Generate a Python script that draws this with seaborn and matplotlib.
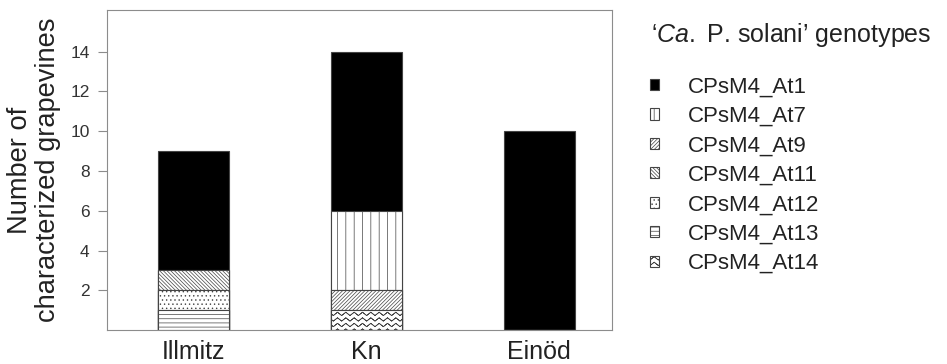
"""
Stacked bar chart of 'Ca. P. solani' genotypes per vineyard location.
"""

import warnings
import numpy as np
import pandas as pd
import matplotlib
matplotlib.use("Agg")
import matplotlib.pyplot as plt
import matplotlib.hatch as mhatch
from matplotlib.patches import Patch
from matplotlib.path import Path
import seaborn as sns

warnings.filterwarnings("ignore")

# --- data -------------------------------------------------------------
locations = ["Illmitz", "Kn", "Einöd"]
genotypes = ["CPsM4_At1", "CPsM4_At7", "CPsM4_At9", "CPsM4_At11",
             "CPsM4_At12", "CPsM4_At13", "CPsM4_At14"]
at1 = [6, 8, 10]
at7 = [0, 4, 0]
at9 = [0, 1, 0]
at11 = [1, 0, 0]
at12 = [1, 0, 0]
at13 = [1, 0, 0]
at14 = [0, 1, 0]

# bottom-to-top stacking order
stack_order = ["CPsM4_At13", "CPsM4_At14", "CPsM4_At12", "CPsM4_At9",
               "CPsM4_At11", "CPsM4_At7", "CPsM4_At1"]


# wavy hatch (not built into matplotlib)
class WavyHatch(mhatch.HatchPatternBase):
    n_pts = 25

    def __init__(self, hatch, density):
        self.num_lines = int(hatch.count("~") * density)
        # each wave is traced forth and back so the hatch fill stays empty
        self.num_vertices = self.num_lines * self.n_pts * 2

    def set_vertices_and_codes(self, vertices, codes):
        steps, stepsize = np.linspace(0.0, 1.0, self.num_lines, False, retstep=True)
        steps += stepsize / 2.0
        n = self.n_pts
        xs = np.linspace(0.0, 1.0, n)
        wiggle = np.where(np.arange(n) % 2 == 0, -1.0, 1.0) * stepsize * 0.3
        xs2 = np.concatenate([xs, xs[::-1]])
        w2 = np.concatenate([wiggle, wiggle[::-1]])
        for i, s in enumerate(steps):
            a, b = i * 2 * n, (i + 1) * 2 * n
            vertices[a:b, 0] = xs2
            vertices[a:b, 1] = s + w2
            codes[a] = Path.MOVETO
            codes[a + 1:b] = Path.LINETO


mhatch._hatch_types.append(WavyHatch)

hatches = {
    "CPsM4_At1": None,
    "CPsM4_At7": "||",
    "CPsM4_At9": "/" * 9,
    "CPsM4_At11": "\\" * 9,
    "CPsM4_At12": "....",
    "CPsM4_At13": "----",
    "CPsM4_At14": "~~~",
}
faces = {g: "white" for g in genotypes}
faces["CPsM4_At1"] = "black"
EDGE = "#444444"


def main():
    sns.set_style("white")
    plt.rcParams["font.family"] = ["Liberation Sans", "DejaVu Sans"]
    plt.rcParams["mathtext.fontset"] = "custom"
    plt.rcParams["mathtext.rm"] = "Liberation Sans"
    plt.rcParams["mathtext.it"] = "Liberation Sans:italic"
    plt.rcParams["hatch.linewidth"] = 0.5

    counts = pd.DataFrame({
        "CPsM4_At1": at1, "CPsM4_At7": at7, "CPsM4_At9": at9,
        "CPsM4_At11": at11, "CPsM4_At12": at12, "CPsM4_At13": at13,
        "CPsM4_At14": at14,
    }, index=locations)
    cum = counts[stack_order].cumsum(axis=1)

    fig, ax = plt.subplots(figsize=(9.47, 3.64), dpi=100)
    fig.subplots_adjust(left=0.113, right=0.646, bottom=0.093, top=0.973)

    # draw cumulative bars from top layer down so lower layers cover upper
    for g in reversed(stack_order):
        sns.barplot(x=locations, y=cum[g].values, ax=ax, color=faces[g],
                    saturation=1, width=0.41, edgecolor=EDGE, linewidth=0.8,
                    hatch=hatches[g], errorbar=None)

    ax.set_ylim(0, 16.1)
    ax.set_xlim(-0.5, 2.42)
    ax.set_yticks(range(2, 15, 2))
    for s in ax.spines.values():
        s.set_color("#8c8c8c")
        s.set_linewidth(0.8)
    ax.tick_params(axis="y", length=6.5, width=0.8, color="#8c8c8c",
                   labelsize=12.5, labelcolor="#333333", pad=6, left=True)
    ax.tick_params(axis="x", length=0, labelsize=18, labelcolor="#222222", pad=7)
    ax.set_xlabel("")
    ax.set_ylabel("Number of\ncharacterized grapevines", fontsize=19.6,
                  color="#222222", linespacing=1.1)
    ax.yaxis.set_label_coords(-0.091, 0.5)

    handles = [Patch(facecolor=faces[g], edgecolor=EDGE, hatch=hatches[g],
                     linewidth=0.8) for g in genotypes]
    fig.legend(handles, genotypes, loc="upper left",
               bbox_to_anchor=(0.686, 0.79), frameon=False, fontsize=16,
               handlelength=0.4, handleheight=0.4, handletextpad=1.3,
               labelspacing=0.38, borderpad=0, borderaxespad=0,
               labelcolor="#222222")
    fig.text(651 / 947, 1 - 35 / 364, "‘$\\mathit{Ca.}$ P. solani’ genotypes",
             fontsize=18, va="center", ha="left", color="#222222")

    fig.savefig("out.png", dpi=100)
    plt.close(fig)


if __name__ == "__main__":
    main()
